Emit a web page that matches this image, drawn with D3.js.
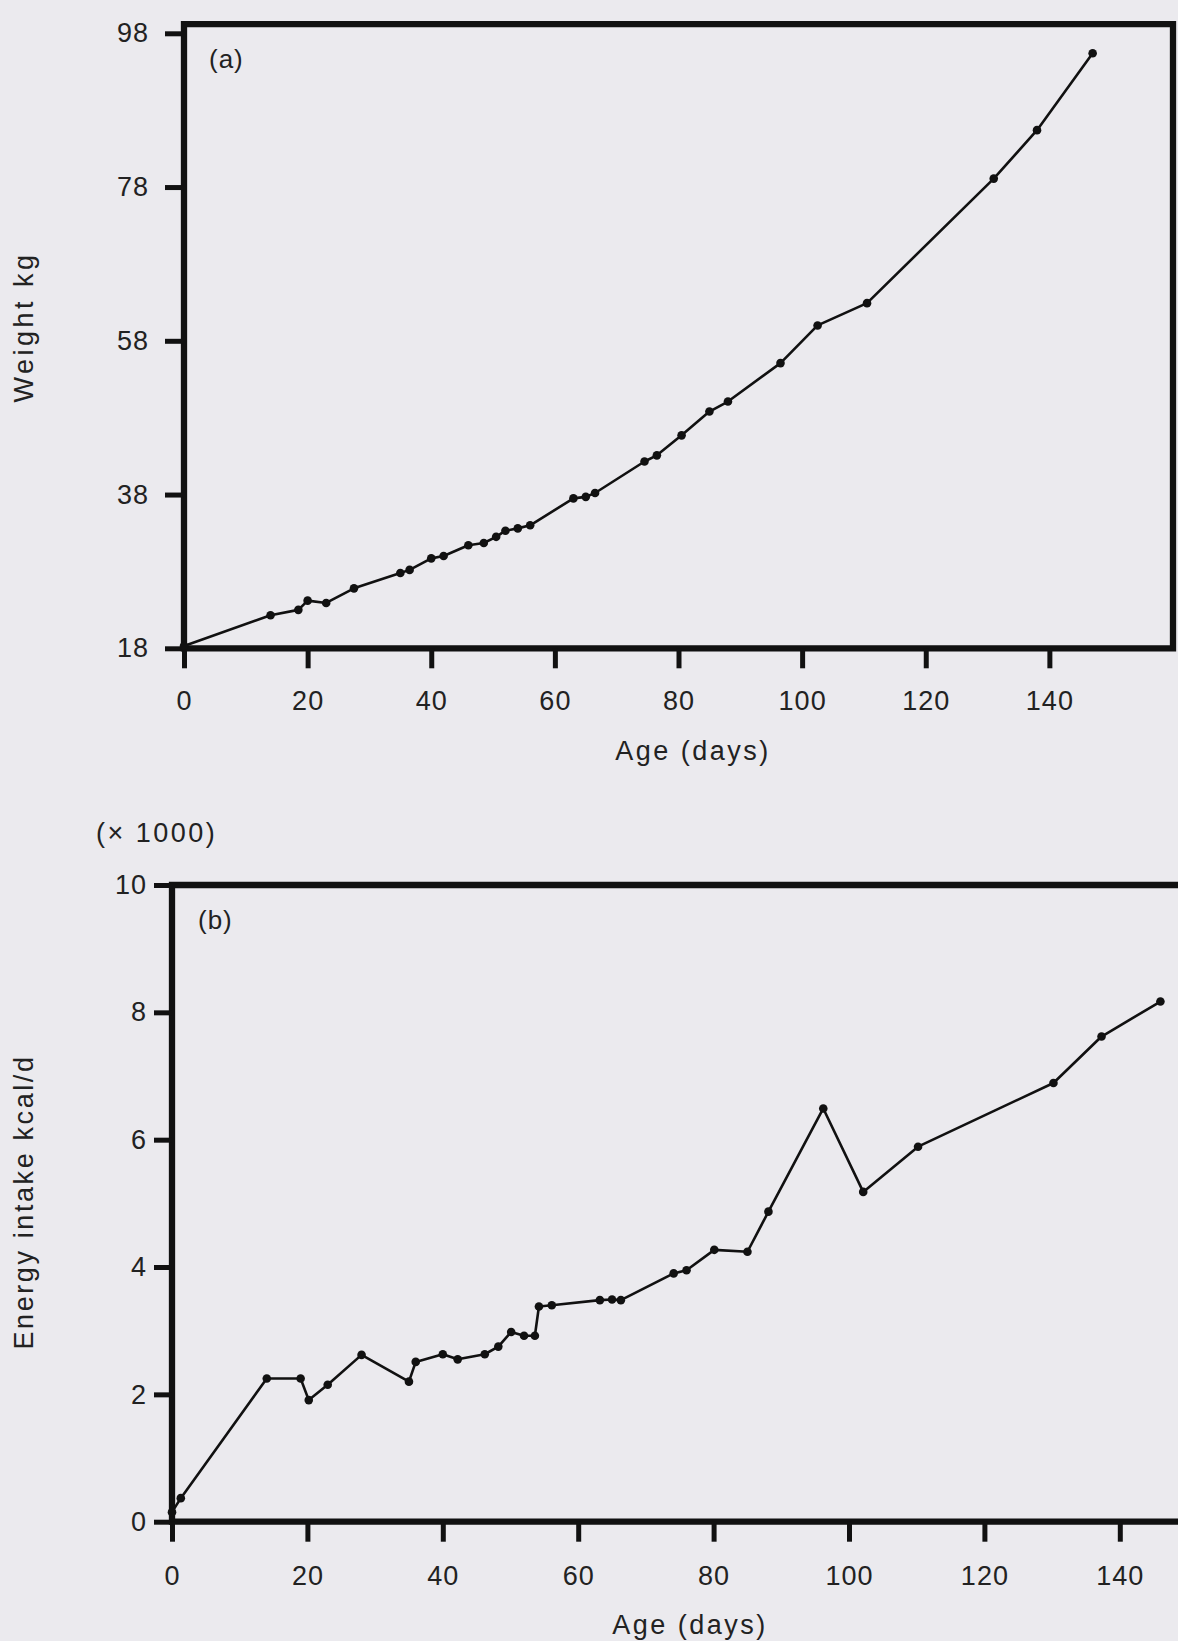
<!DOCTYPE html>
<html>
<head>
<meta charset="utf-8">
<script src="https://cdn.jsdelivr.net/npm/d3@7"></script>
<style>
  body { margin: 0; background: #ebeaee; }
  svg { display: block; }
  text { font-family: "Liberation Sans", Arial, sans-serif; fill: #222; }
</style>
</head>
<body>
<div id="chart"></div>
<script>
// (a) body weight against age
var weightDays = [0, 14, 18.5, 20, 23, 27.5, 35, 36.5, 40, 42, 46, 48.5, 50.5, 52, 54, 56,
  63, 65, 66.5, 74.5, 76.5, 80.5, 85, 88, 96.5, 102.5, 110.5, 131, 138, 147];
var weightKg = [18.3, 22.3, 23.0, 24.2, 23.9, 25.8, 27.8, 28.2, 29.7, 30.0, 31.4, 31.7, 32.5, 33.3, 33.6, 34.0,
  37.5, 37.7, 38.2, 42.3, 43.1, 45.7, 48.8, 50.1, 55.1, 60.0, 62.9, 79.1, 85.4, 95.4];
var weightTicks = [18, 38, 58, 78, 98];

// (b) energy intake against age, kcal/d in thousands
var energyDays = [0, 1.3, 14, 19, 20.2, 23, 28, 35, 36, 40, 42.2, 46.2, 48.2, 50.1, 52, 53.6, 54.2, 56.1,
  63.2, 65, 66.3, 74.1, 76, 80.1, 85, 88.1, 96.2, 102.1, 110.2, 130.2, 137.3, 146];
var energyKcal = [0.15, 0.37, 2.25, 2.25, 1.91, 2.15, 2.62, 2.2, 2.51, 2.63, 2.55, 2.63, 2.75, 2.98, 2.92, 2.92, 3.38, 3.40,
  3.48, 3.49, 3.48, 3.9, 3.95, 4.27, 4.24, 4.87, 6.49, 5.18, 5.89, 6.89, 7.62, 8.17];
var energyTicks = [0, 2, 4, 6, 8, 10];

var ageTicks = [0, 20, 40, 60, 80, 100, 120, 140];

var svgWidth = 1178;
var svgHeight = 1641;

var svg = d3.select("#chart")
  .append("svg")
  .attr("width", svgWidth)
  .attr("height", svgHeight);

// draws one panel: frame, ticks, line with dots
function drawPanel(p) {
  var g = svg.append("g");

  var pts = p.xs.map(function(d, i) { return [d, p.ys[i]]; });

  // frame lines
  g.append("path")
    .attr("d", p.frame)
    .attr("fill", "none")
    .attr("stroke", "#111")
    .attr("stroke-width", 6.3)
    .attr("stroke-linecap", "square")
    .attr("stroke-linejoin", "miter");

  var leftAxis = d3.axisLeft(p.y)
    .tickValues(p.yTicks)
    .tickSize(p.yTickSize)
    .tickPadding(p.yPad)
    .tickFormat(d3.format("d"));

  var bottomAxis = d3.axisBottom(p.x)
    .tickValues(ageTicks)
    .tickSize(20)
    .tickPadding(p.xPad)
    .tickFormat(d3.format("d"));

  var ya = g.append("g")
    .attr("transform", "translate(" + p.x(0) + ",0)")
    .call(leftAxis);
  var xa = g.append("g")
    .attr("transform", "translate(0," + p.y(p.yTicks[0]) + ")")
    .call(bottomAxis);

  [ya, xa].forEach(function(a) {
    a.select(".domain").remove();
    a.selectAll(".tick line").attr("stroke", "#111").attr("stroke-width", 5);
    a.selectAll(".tick text")
      .attr("font-size", 27)
      .attr("fill", "#222")
      .style("letter-spacing", "1px")
      .style("font-family", "'Liberation Sans', Arial, sans-serif");
  });

  var line = d3.line()
    .x(function(d) { return p.x(d[0]); })
    .y(function(d) { return p.y(d[1]); });

  g.append("path")
    .datum(pts)
    .attr("d", line)
    .attr("fill", "none")
    .attr("stroke", "#111")
    .attr("stroke-width", 2.6)
    .attr("stroke-linejoin", "round");

  g.selectAll("circle")
    .data(pts)
    .enter()
    .append("circle")
    .attr("cx", function(d) { return p.x(d[0]); })
    .attr("cy", function(d) { return p.y(d[1]); })
    .attr("r", 4.3)
    .attr("fill", "#111");

  return g;
}

// panel (a)
var xA = d3.scaleLinear().domain([0, 160]).range([184, 1173]);
var yA = d3.scaleLinear().domain([18, 98]).range([648.3, 33.3]);

var gA = drawPanel({
  x: xA, y: yA, xs: weightDays, ys: weightKg, yTicks: weightTicks,
  yTickSize: 19, yPad: 16, xPad: 23,
  frame: "M" + xA(0) + "," + yA(18) + "L" + xA(0) + "," + yA(99.2) +
    "L" + xA(160) + "," + yA(99.2) + "L" + xA(160) + "," + yA(18) + "Z"
});

gA.append("text")
  .attr("x", 209).attr("y", 68)
  .attr("font-size", 26)
  .style("letter-spacing", "1px")
  .text("(a)");

gA.append("text")
  .attr("transform", "translate(33,327) rotate(-90)")
  .attr("text-anchor", "middle")
  .attr("font-size", 27)
  .style("letter-spacing", "3.5px")
  .text("Weight kg");

gA.append("text")
  .attr("x", 693).attr("y", 760)
  .attr("text-anchor", "middle")
  .attr("font-size", 27)
  .style("letter-spacing", "2.5px")
  .text("Age (days)");

// panel (b)
var xB = d3.scaleLinear().domain([0, 150]).range([172, 172 + 150 * 6.77]);
var yB = d3.scaleLinear().domain([0, 10]).range([1521.7, 885]);

var gB = drawPanel({
  x: xB, y: yB, xs: energyDays, ys: energyKcal, yTicks: energyTicks,
  yTickSize: 18, yPad: 7, xPad: 24,
  frame: "M" + xB(150) + "," + yB(10) + "L" + xB(0) + "," + yB(10) +
    "L" + xB(0) + "," + yB(0) + "L" + xB(150) + "," + yB(0)
});

gB.append("text")
  .attr("x", 198).attr("y", 929)
  .attr("font-size", 26)
  .style("letter-spacing", "1px")
  .text("(b)");

gB.append("text")
  .attr("x", 96).attr("y", 842)
  .attr("font-size", 27)
  .style("letter-spacing", "2.5px")
  .text("(\u00d7 1000)");

gB.append("text")
  .attr("transform", "translate(33,1202) rotate(-90)")
  .attr("text-anchor", "middle")
  .attr("font-size", 27)
  .style("letter-spacing", "2.6px")
  .text("Energy intake kcal/d");

gB.append("text")
  .attr("x", 690).attr("y", 1634)
  .attr("text-anchor", "middle")
  .attr("font-size", 27)
  .style("letter-spacing", "2.5px")
  .text("Age (days)");
</script>
</body>
</html>
